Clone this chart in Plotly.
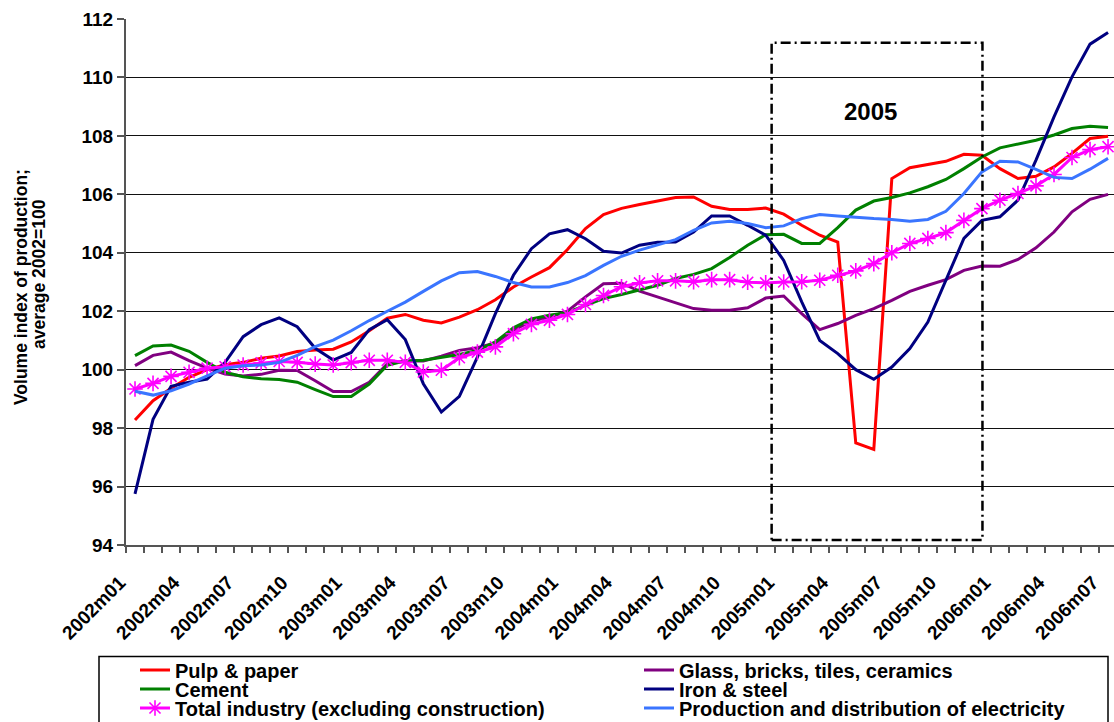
import plotly.graph_objects as go

months = [f"{y}m{m:02d}" for y in range(2002, 2007) for m in range(1, 13)][:55]
tick_labels = ["2002m01", "2002m04", "2002m07", "2002m10", "2003m01", "2003m04", "2003m07",
               "2003m10", "2004m01", "2004m04", "2004m07", "2004m10", "2005m01", "2005m04",
               "2005m07", "2005m10", "2006m01", "2006m04", "2006m07"]

pulp_paper = [98.28, 98.94, 99.36, 99.74, 100.0, 100.17, 100.25, 100.39, 100.47, 100.62,
              100.67, 100.7, 100.95, 101.33, 101.76, 101.89, 101.69, 101.6, 101.8, 102.05,
              102.39, 102.83, 103.17, 103.49, 104.11, 104.83, 105.31, 105.52, 105.65, 105.78,
              105.89, 105.91, 105.59, 105.48, 105.48, 105.53, 105.32, 104.94, 104.6, 104.37,
              97.49, 97.27, 106.54, 106.91, 107.03, 107.13, 107.37, 107.34, 106.88, 106.54,
              106.62, 106.94, 107.4, 107.91, 107.99]
glass = [100.14, 100.49, 100.6, 100.31, 100.05, 99.85, 99.78, 99.84, 99.98, 99.97,
         99.62, 99.25, 99.25, 99.57, 100.2, 100.3, 100.3, 100.46, 100.66, 100.75,
         100.91, 101.35, 101.66, 101.8, 102.0, 102.49, 102.94, 102.96, 102.69, 102.49,
         102.28, 102.09, 102.03, 102.03, 102.12, 102.45, 102.52, 101.92, 101.37, 101.58,
         101.86, 102.09, 102.37, 102.68, 102.89, 103.08, 103.4, 103.55, 103.54, 103.77,
         104.17, 104.71, 105.4, 105.83, 106.0]
cement = [100.48, 100.81, 100.84, 100.63, 100.25, 99.91, 99.76, 99.69, 99.66, 99.57,
          99.32, 99.08, 99.08, 99.51, 100.15, 100.3, 100.32, 100.41, 100.52, 100.66,
          100.95, 101.43, 101.74, 101.86, 101.96, 102.2, 102.43, 102.57, 102.72, 102.89,
          103.12, 103.26, 103.46, 103.84, 104.26, 104.62, 104.63, 104.32, 104.32, 104.86,
          105.46, 105.77, 105.89, 106.05, 106.26, 106.51, 106.88, 107.28, 107.59, 107.72,
          107.85, 108.03, 108.25, 108.33, 108.29]
iron_steel = [95.75, 98.3, 99.43, 99.57, 99.68, 100.25, 101.13, 101.54, 101.77, 101.47,
              100.73, 100.33, 100.59, 101.37, 101.71, 101.03, 99.52, 98.55, 99.09, 100.43,
              101.92, 103.23, 104.14, 104.65, 104.79, 104.48, 104.05, 103.99, 104.26, 104.36,
              104.37, 104.71, 105.26, 105.26, 104.94, 104.6, 103.74, 102.32, 101.0, 100.55,
              100.0, 99.67, 100.09, 100.72, 101.63, 103.06, 104.49, 105.11, 105.23, 105.8,
              107.17, 108.65, 110.02, 111.14, 111.54]
total_industry = [99.34, 99.53, 99.77, 99.91, 100.05, 100.1, 100.16, 100.23, 100.28, 100.25,
                  100.19, 100.16, 100.24, 100.32, 100.32, 100.25, 99.92, 99.98, 100.41, 100.6,
                  100.78, 101.23, 101.55, 101.69, 101.89, 102.23, 102.54, 102.84, 102.97, 103.04,
                  103.04, 103.01, 103.08, 103.08, 102.99, 102.97, 103.0, 103.01, 103.06, 103.23,
                  103.38, 103.63, 104.0, 104.32, 104.49, 104.69, 105.11, 105.51, 105.8, 106.03,
                  106.29, 106.68, 107.26, 107.53, 107.63]
electricity = [99.26, 99.13, 99.28, 99.51, 99.79, 100.05, 100.13, 100.16, 100.25, 100.49,
               100.79, 101.01, 101.33, 101.68, 102.0, 102.31, 102.68, 103.04, 103.32, 103.36,
               103.19, 102.98, 102.83, 102.83, 102.98, 103.22, 103.57, 103.88, 104.09, 104.26,
               104.45, 104.77, 105.02, 105.08, 105.0, 104.86, 104.92, 105.17, 105.31, 105.26,
               105.21, 105.17, 105.14, 105.08, 105.14, 105.42, 106.03, 106.77, 107.13, 107.11,
               106.85, 106.58, 106.54, 106.86, 107.23]

FONT = "Liberation Sans, Arial, sans-serif"
x = list(range(len(months)))

series = [
    ("Pulp & paper", pulp_paper, "#FF0000", "legend", None),
    ("Glass, bricks, tiles, ceramics", glass, "#800080", "legend2", None),
    ("Cement", cement, "#008000", "legend3", None),
    ("Iron & steel", iron_steel, "#000080", "legend4", None),
    ("Total industry (excluding construction)", total_industry, "#FF00FF", "legend5", "star"),
    ("Production and distribution of electricity", electricity, "#3A75FF", "legend6", None),
]

fig = go.Figure()
for name, vals, color, leg, mk in series:
    if mk:
        fig.add_trace(go.Scatter(
            x=x, y=vals, name=name, mode="lines+markers", legend=leg,
            line=dict(color=color, width=3),
            marker=dict(symbol="asterisk-open", size=13, color=color,
                        line=dict(color=color, width=1.6)),
            customdata=months, hovertemplate="%{customdata}: %{y}<extra>" + name + "</extra>"))
    else:
        fig.add_trace(go.Scatter(
            x=x, y=vals, name=name, mode="lines", legend=leg,
            line=dict(color=color, width=3),
            customdata=months, hovertemplate="%{customdata}: %{y}<extra>" + name + "</extra>"))

W, H = 1114, 722
leg_common = dict(font=dict(family=FONT, size=20, color="black", weight="bold"),
                  bgcolor="rgba(0,0,0,0)", xref="container", yref="container",
                  xanchor="left", yanchor="middle", borderwidth=0)
rows = [670, 689, 708]
cols = [135, 639]
legends = {}
names = ["legend", "legend2", "legend3", "legend4", "legend5", "legend6"]
for k, nm in enumerate(names):
    r, c = divmod(k, 2)
    legends[nm] = dict(leg_common, x=cols[c] / W, y=1 - rows[r] / H)

fig.update_layout(
    width=W, height=H,
    margin=dict(l=126, r=0, t=19, b=177, autoexpand=False),
    plot_bgcolor="white", paper_bgcolor="white",
    font=dict(family=FONT, color="black"),
    showlegend=True,
    **legends,
    xaxis=dict(
        range=[-0.5, 54.33], showgrid=False, zeroline=False,
        showline=True, linecolor="#555555", linewidth=2,
        tickmode="array", tickvals=[months.index(t) for t in tick_labels], ticktext=tick_labels,
        ticks="", tickangle=-45, automargin=False,
        ticklabelstandoff=17, ticklabelshift=-15,
        tickfont=dict(family=FONT, size=19, color="black", weight="bold"),
        minor=dict(tickmode="array", tickvals=[i - 0.5 for i in range(len(months) + 1)],
                   ticks="outside", ticklen=6, tickwidth=1.5, tickcolor="#555555", showgrid=False),
    ),
    yaxis=dict(
        range=[94, 112], dtick=2, tick0=94, showgrid=True, gridcolor="#111111", gridwidth=1,
        zeroline=False, showline=True, linecolor="#555555", linewidth=2, automargin=False,
        ticks="outside", ticklen=7, tickwidth=1.5, tickcolor="#555555",
        tickfont=dict(family=FONT, size=19, color="black", weight="bold"),
    ),
    shapes=[
        dict(type="rect", xref="x", yref="y", x0=35.33, x1=47.03, y0=94.17, y1=111.19,
             line=dict(color="black", width=2.5, dash="10px,4px,2px,4px"), layer="above"),
        dict(type="rect", xref="paper", yref="paper",
             x0=(99 - 126) / 988, x1=(1108 - 126) / 988,
             y0=(545 - 656.5) / 526, y1=(545 - 735) / 526,
             line=dict(color="black", width=1.5)),
    ],
    annotations=[
        dict(text="2005", x=40.81, y=108.83, xref="x", yref="y", showarrow=False,
             font=dict(family=FONT, size=24, color="black", weight="bold")),
        dict(text="Volume index of production;", xref="paper", yref="paper",
             x=(21 - 126) / 988, y=(545 - 287) / 526, textangle=-90, showarrow=False,
             xanchor="center", yanchor="middle",
             font=dict(family=FONT, size=17.5, color="black", weight="bold")),
        dict(text="average 2002=100", xref="paper", yref="paper",
             x=(39 - 126) / 988, y=(545 - 274) / 526, textangle=-90, showarrow=False,
             xanchor="center", yanchor="middle",
             font=dict(family=FONT, size=17.5, color="black", weight="bold")),
    ],
)

fig.write_html("out.html", config={"displayModeBar": False},
               post_script="document.body.style.margin='0px';document.body.style.padding='0px';")
